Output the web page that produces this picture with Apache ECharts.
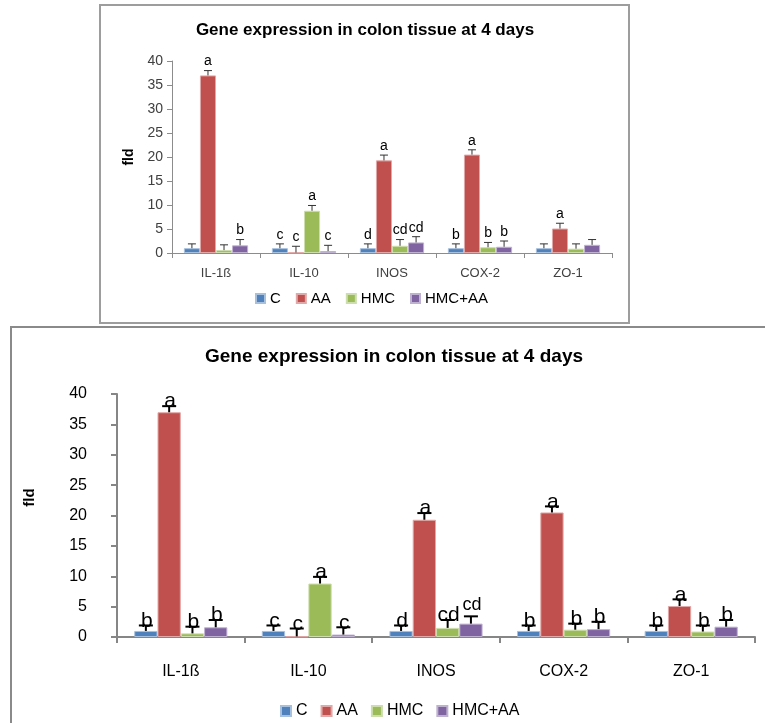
<!DOCTYPE html>
<html>
<head>
<meta charset="utf-8">
<script src="https://cdn.jsdelivr.net/npm/echarts@6/dist/echarts.min.js"></script>
<style>
html,body{margin:0;padding:0;background:#fff;}
#chart{width:765px;height:723px;}
</style>
</head>
<body>
<div id="chart"></div>
<script>
// ---------------- data ----------------
const categories = ['IL-1ß', 'IL-10', 'INOS', 'COX-2', 'ZO-1'];
const seriesNames = ['C', 'AA', 'HMC', 'HMC+AA'];
const yTicks = { min: 0, max: 40, interval: 5 };

const valC     = [1.0, 1.0, 1.0, 1.0, 1.0];
const valAA    = [37.0, 0.1, 19.3, 20.5, 5.1];
const valHMC   = [0.6, 8.8, 1.5, 1.2, 0.9];
const valHMCAA = [1.6, 0.4, 2.2, 1.3, 1.7];

// upper end of error bars
const errC     = [1.9, 1.9, 1.9, 1.9, 1.9];
const errAA    = [38.0, 1.4, 20.4, 21.5, 6.2];
const errHMC   = [1.7, 9.9, 2.8, 2.2, 1.9];
const errHMCAA = [2.8, 1.6, 3.4, 2.5, 2.8];

// significance letters (upper chart)
const lettersTopC     = ['', 'c', 'd', 'b', ''];
const lettersTopAA    = ['a', 'c', 'a', 'a', 'a'];
const lettersTopHMC   = ['', 'a', 'cd', 'b', ''];
const lettersTopHMCAA = ['b', 'c', 'cd', 'b', ''];

// significance letters (lower chart)
const lettersBotC     = ['b', 'c', 'd', 'b', 'b'];
const lettersBotAA    = ['a', 'c', 'a', 'a', 'a'];
const lettersBotHMC   = ['b', 'a', 'cd', 'b', 'b'];
const lettersBotHMCAA = ['b', 'c', 'cd', 'b', 'b'];

const titleText = 'Gene expression in colon tissue at 4 days';
const yName = 'fld';

// ---------------- build ----------------
const values = [valC, valAA, valHMC, valHMCAA];
const errs = [errC, errAA, errHMC, errHMCAA];
const lettersTop = [lettersTopC, lettersTopAA, lettersTopHMC, lettersTopHMCAA];
const lettersBot = [lettersBotC, lettersBotAA, lettersBotHMC, lettersBotHMCAA];
const colors = ['#4F81BD', '#C0504D', '#9BBB59', '#8064A2'];
const borderColors = ['#A7C0DE', '#E0A8A6', '#CDDDAC', '#BFB1D0'];
const FONT = 'Liberation Sans';
const CAT_GAP = 0.27;

// smaller letter style exception in lower chart: (category, series)
const smallLetter = { cat: 2, ser: 3 };

function barSeries(gi) {
  return seriesNames.map((name, si) => ({
    name: name,
    type: 'bar',
    xAxisIndex: gi, yAxisIndex: gi,
    data: values[si],
    barGap: '0%',
    barCategoryGap: (CAT_GAP * 100) + '%',
    itemStyle: { color: colors[si], borderColor: borderColors[si], borderWidth: 1 },
    z: 2
  }));
}

function errSeries(gi, letters, st) {
  const items = [];
  for (let si = 0; si < 4; si++) {
    for (let ci = 0; ci < categories.length; ci++) {
      items.push({ value: [ci, values[si][ci], errs[si][ci], si], letter: letters[si][ci] });
    }
  }
  return {
    type: 'custom',
    xAxisIndex: gi, yAxisIndex: gi,
    data: items.map(d => d.value),
    z: 5,
    silent: true,
    renderItem: function (params, api) {
      const ci = api.value(0), v = api.value(1), e = api.value(2), si = api.value(3);
      const letter = items[params.dataIndex].letter;
      const catW = api.size([1, 0])[0];
      const groupW = catW * (1 - CAT_GAP);
      const barW = groupW / 4;
      const cx = api.coord([ci, 0])[0] - groupW / 2 + barW * (si + 0.5);
      const yv = api.coord([ci, v])[1];
      const ye = api.coord([ci, e])[1];
      const ls = { stroke: st.errColor, lineWidth: st.errWidth };
      const children = [
        { type: 'line', shape: { x1: cx, y1: yv, x2: cx, y2: ye }, style: ls },
        { type: 'line', shape: { x1: cx - st.cap, y1: ye, x2: cx + st.cap, y2: ye }, style: ls }
      ];
      if (letter) {
        let fs = st.fontSize, dy = st.dy;
        if (st.small && ci === smallLetter.cat && si === smallLetter.ser) { fs = st.smallSize; dy = st.smallDy; }
        children.push({
          type: 'text',
          style: {
            text: letter, x: cx + st.dx, y: ye + dy,
            fill: '#000', font: fs + 'px "' + FONT + '"',
            textAlign: 'center', textVerticalAlign: 'bottom'
          }
        });
      }
      return { type: 'group', children: children };
    }
  };
}

const chart = echarts.init(document.getElementById('chart'), null, { renderer: 'canvas' });

const option = {
  animation: false,
  backgroundColor: '#fff',
  textStyle: { fontFamily: FONT },
  title: [
    { text: titleText, left: 365, top: 22, textAlign: 'center', padding: 0,
      textStyle: { fontSize: 17, fontWeight: 'bold', color: '#000', fontFamily: FONT } },
    { text: titleText, left: 394, top: 347, textAlign: 'center', padding: 0,
      textStyle: { fontSize: 19, fontWeight: 'bold', color: '#000', fontFamily: FONT } }
  ],
  legend: [
    { data: seriesNames, left: 255, top: 291, padding: 0, itemWidth: 9, itemHeight: 9, itemGap: 15,
      icon: 'rect', textStyle: { fontSize: 15, color: '#000', fontFamily: FONT }, selectedMode: false },
    { data: seriesNames, left: 280, top: 703, padding: 0, itemWidth: 10, itemHeight: 10, itemGap: 13,
      icon: 'rect', textStyle: { fontSize: 16, color: '#000', fontFamily: FONT }, selectedMode: false }
  ],
  grid: [
    { left: 172, top: 61, width: 440, height: 192 },
    { left: 117, top: 394, width: 638, height: 243 }
  ],
  xAxis: [
    { gridIndex: 0, type: 'category', data: categories,
      axisLine: { lineStyle: { color: '#8c8c8c', width: 1 } },
      axisTick: { show: true, length: 5, lineStyle: { color: '#8c8c8c' } },
      axisLabel: { fontSize: 13, color: '#404040', margin: 14 } },
    { gridIndex: 1, type: 'category', data: categories,
      axisLine: { lineStyle: { color: '#868686', width: 2 } },
      axisTick: { show: true, length: 6, lineStyle: { color: '#868686', width: 2 } },
      axisLabel: { fontSize: 16, color: '#000', margin: 27 } }
  ],
  yAxis: [
    { gridIndex: 0, type: 'value', min: yTicks.min, max: yTicks.max, interval: yTicks.interval,
      name: yName, nameLocation: 'middle', nameGap: 36, nameRotate: 90,
      nameTextStyle: { fontSize: 14, fontWeight: 'bold', color: '#000' },
      splitLine: { show: false },
      axisLine: { show: true, lineStyle: { color: '#8c8c8c' } },
      axisTick: { show: true, length: 5, lineStyle: { color: '#8c8c8c' } },
      axisLabel: { fontSize: 14, color: '#404040', margin: 9 } },
    { gridIndex: 1, type: 'value', min: yTicks.min, max: yTicks.max, interval: yTicks.interval,
      name: yName, nameLocation: 'middle', nameGap: 80, nameRotate: 90,
      nameTextStyle: { fontSize: 15, fontWeight: 'bold', color: '#000', padding: [0, 0, 0, 36] },
      splitLine: { show: false },
      axisLine: { show: true, lineStyle: { color: '#868686', width: 2 } },
      axisTick: { show: true, length: 6, lineStyle: { color: '#868686', width: 2 } },
      axisLabel: { fontSize: 16, color: '#000', margin: 30 } }
  ],
  series: [].concat(
    barSeries(0),
    barSeries(1),
    [errSeries(0, lettersTop, { errColor: '#333', errWidth: 1, cap: 4, fontSize: 14, dx: 0, dy: -2 })],
    [errSeries(1, lettersBot, { errColor: '#000', errWidth: 2, cap: 7, fontSize: 21, dx: 1, dy: 6,
      small: true, smallSize: 18, smallDy: -2 })]
  ),
  graphic: [
    { type: 'rect', shape: { x: 100, y: 5, width: 529, height: 318 },
      style: { fill: 'none', stroke: '#9d9d9d', lineWidth: 2 }, z: 100 },
    { type: 'polyline', shape: { points: [[11, 723], [11, 327], [765, 327]] },
      style: { fill: 'none', stroke: '#8a8a8a', lineWidth: 2 }, z: 100 }
  ]
};
chart.setOption(option);
</script>
</body>
</html>
